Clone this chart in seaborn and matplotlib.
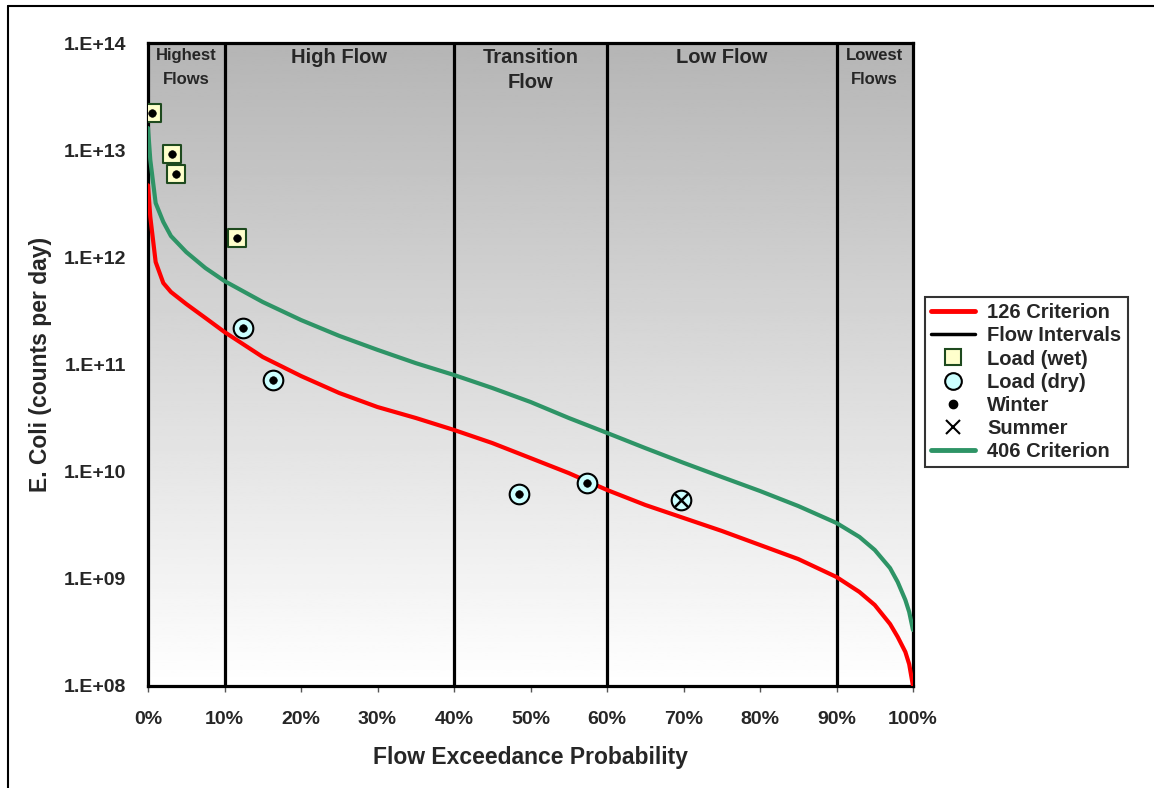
import numpy as np
import pandas as pd
import matplotlib
matplotlib.use("Agg")
import matplotlib.pyplot as plt
import matplotlib.transforms as mtransforms
from matplotlib.lines import Line2D
from matplotlib.ticker import FuncFormatter, FixedLocator, NullLocator
import seaborn as sns

# flow exceedance (%) at which the duration curves were read
exceed_pct = [0, 0.3, 1, 2, 3, 5, 7.5, 10, 15, 20, 25, 30, 35, 40, 45, 50,
              55, 60, 65, 70, 75, 80, 85, 90, 93, 95, 97, 98, 99, 99.5, 100]
crit_126 = [4.7e12, 2.38e12, 9.05e11, 5.76e11, 4.75e11, 3.67e11, 2.72e11, 2.01e11,
            1.175e11, 7.81e10, 5.42e10, 4.01e10, 3.17e10, 2.45e10, 1.85e10, 1.34e10,
            9.7e9, 6.75e9, 4.89e9, 3.70e9, 2.80e9, 2.07e9, 1.53e9, 1.04e9,
            7.54e8, 5.70e8, 3.79e8, 2.87e8, 2.08e8, 1.60e8, 1.0e8]
crit_406 = [1.61e13, 8.10e12, 3.21e12, 2.14e12, 1.58e12, 1.12e12, 7.95e11, 6.01e11,
            3.83e11, 2.60e11, 1.85e11, 1.37e11, 1.03e11, 7.98e10, 6.04e10, 4.47e10,
            3.17e10, 2.30e10, 1.66e10, 1.21e10, 8.92e9, 6.60e9, 4.78e9, 3.32e9,
            2.46e9, 1.86e9, 1.26e9, 9.34e8, 6.35e8, 4.91e8, 3.33e8]

# observed loads
sample_pct = [0.5, 3.1, 3.7, 11.6, 12.4, 16.3, 48.5, 57.4, 69.7]
sample_load = [2.2e13, 9.2e12, 6.0e12, 1.5e12, 2.2e11, 7.2e10, 6.2e9, 7.8e9, 5.4e9]
sample_cond = ["wet", "wet", "wet", "wet", "dry", "dry", "dry", "dry", "dry"]
sample_season = ["winter", "winter", "winter", "winter", "winter", "winter",
                 "winter", "winter", "summer"]

interval_edges = [10, 40, 60, 90]
zone_centers = [5, 25, 50, 75, 95]
zone_labels = ["Highest\nFlows", "High Flow", "Transition\nFlow", "Low Flow", "Lowest\nFlows"]
zone_sizes = [12, 14.5, 14.5, 14.5, 12]

y_ticks = [1e8, 1e9, 1e10, 1e11, 1e12, 1e13, 1e14]
x_ticks = [0, 10, 20, 30, 40, 50, 60, 70, 80, 90, 100]

WET_FILL, WET_EDGE = "#ffffcc", "#1e4a1e"
DRY_FILL = "#ccffff"
RED, GREEN = "#ff0000", "#2e9466"

sns.set_style("white")
plt.rcParams["font.family"] = ["Liberation Sans", "DejaVu Sans"]
plt.rcParams["font.weight"] = "bold"

curves = pd.DataFrame({"pct": exceed_pct, "c126": crit_126, "c406": crit_406})
samples = pd.DataFrame({"pct": sample_pct, "load": sample_load,
                        "cond": sample_cond, "season": sample_season})

fig = plt.figure(figsize=(11.54, 7.88), dpi=100)
ax = fig.add_axes([148 / 1154, 1 - 686 / 788, 765 / 1154, 643 / 788])

# gray (top) to white (bottom) background
grad = np.linspace(0.71, 1.0, 256).reshape(-1, 1)
ax.imshow(grad, extent=[0, 1, 0, 1], transform=ax.transAxes, aspect="auto",
          cmap="gray", vmin=0, vmax=1, zorder=0)

ax.set_yscale("log")

for xv in interval_edges:
    ax.axvline(xv, color="black", lw=2.3, zorder=2)

sns.lineplot(data=curves, x="pct", y="c126", ax=ax, color=RED, lw=3.0, zorder=3)
sns.lineplot(data=curves, x="pct", y="c406", ax=ax, color=GREEN, lw=3.0, zorder=3)

wet = samples[samples["cond"] == "wet"]
dry = samples[samples["cond"] == "dry"]
sns.scatterplot(data=wet, x="pct", y="load", ax=ax, marker="s", s=150,
                color=WET_FILL, edgecolor=WET_EDGE, linewidth=1.5, zorder=4)
sns.scatterplot(data=dry, x="pct", y="load", ax=ax, marker="o", s=200,
                color=DRY_FILL, edgecolor="black", linewidth=1.5, zorder=4)
sns.scatterplot(data=samples[samples["season"] == "winter"], x="pct", y="load", ax=ax,
                marker="o", s=30, color="black", edgecolor="black", zorder=5)
sns.scatterplot(data=samples[samples["season"] == "summer"], x="pct", y="load", ax=ax,
                marker="x", s=90, color="black", linewidth=1.8, zorder=5)

ax.set_xlim(0, 100)
ax.set_ylim(1e8, 1e14)

trans = mtransforms.blended_transform_factory(ax.transData, ax.transAxes)
for xc, lab, fs in zip(zone_centers, zone_labels, zone_sizes):
    ax.text(xc, 0.993, lab, transform=trans, ha="center", va="top",
            fontsize=fs, fontweight="bold", linespacing=1.75 if fs < 13 else 1.4,
            zorder=6)

ax.xaxis.set_major_locator(FixedLocator(x_ticks))
ax.xaxis.set_major_formatter(FuncFormatter(lambda v, p: f"{int(v)}%"))
ax.yaxis.set_major_locator(FixedLocator(y_ticks))
ax.yaxis.set_minor_locator(NullLocator())
ax.yaxis.set_major_formatter(FuncFormatter(lambda v, p: f"1.E+{int(round(np.log10(v))):02d}"))
ax.tick_params(axis="x", length=4, width=1, direction="out", pad=14, labelsize=14,
               bottom=True, color="#555555")
ax.tick_params(axis="y", length=0, pad=16, labelsize=14)
for lab in ax.get_xticklabels() + ax.get_yticklabels():
    lab.set_fontweight("bold")

ax.set_xlabel("Flow Exceedance Probability", fontsize=16.5, fontweight="bold")
ax.set_ylabel("E. Coli (counts per day)", fontsize=16.5, fontweight="bold")
ax.xaxis.set_label_coords(0.5, -0.093)
ax.yaxis.set_label_coords(-0.1255, 0.5)

for sp in ax.spines.values():
    sp.set_visible(True)
    sp.set_color("black")
    sp.set_linewidth(2.3)

handles = [
    Line2D([], [], color=RED, lw=3.5),
    Line2D([], [], color="black", lw=2.5),
    Line2D([], [], ls="none", marker="s", ms=11, mfc=WET_FILL, mec=WET_EDGE, mew=1.5),
    Line2D([], [], ls="none", marker="o", ms=12, mfc=DRY_FILL, mec="black", mew=1.5),
    Line2D([], [], ls="none", marker="o", ms=6, mfc="black", mec="black"),
    Line2D([], [], ls="none", marker="x", ms=10, color="black", mew=1.5),
    Line2D([], [], color=GREEN, lw=3.5),
]
labels = ["126 Criterion", "Flow Intervals", "Load (wet)", "Load (dry)",
          "Winter", "Summer", "406 Criterion"]
leg = fig.legend(handles, labels, loc="upper left",
                 bbox_to_anchor=(925 / 1154, 1 - 297 / 788), borderaxespad=0,
                 frameon=True, fancybox=False, edgecolor="black",
                 labelspacing=0.21, handlelength=2.2, borderpad=0.3, handletextpad=0.6,
                 prop={"weight": "bold", "size": 14.5})
leg.get_frame().set_linewidth(1.5)

# outer chart frame (left and top edges visible)
fig.add_artist(Line2D([8 / 1154, 8 / 1154], [0, 1 - 6 / 788], transform=fig.transFigure,
                      color="black", lw=1.5))
fig.add_artist(Line2D([8 / 1154, 1], [1 - 6 / 788, 1 - 6 / 788], transform=fig.transFigure,
                      color="black", lw=1.5))

fig.savefig("out.png", dpi=100)
